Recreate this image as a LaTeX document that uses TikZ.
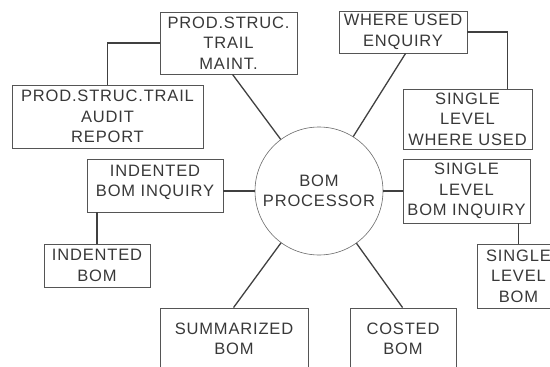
\documentclass[tikz,border=0pt]{standalone}
\usepackage{fontspec}
\setmainfont{Liberation Sans}[LetterSpace=5]
\definecolor{txt}{HTML}{383838}
\definecolor{boxc}{HTML}{555555}
\definecolor{linec}{HTML}{404040}
\definecolor{circc}{HTML}{6A6A6A}
\begin{document}
\begin{tikzpicture}[x=1pt,y=-1pt,
  font=\fontsize{16.5pt}{20.5pt}\selectfont,
  boxn/.style={draw=boxc,line width=0.9pt,text=txt,inner sep=0pt,align=center,
    minimum width=#1},
  conn/.style={draw=linec,line width=1.3pt}]
\useasboundingbox (0,0) rectangle (550,367);
\clip (0,0) rectangle (550,367);
\node[boxn=137pt,minimum height=62pt] (pstm) at (228.5,43) {PROD.STRUC.\\TRAIL\\MAINT.};
\node[boxn=191pt,minimum height=63pt] (audit) at (107.5,116.5) {PROD.STRUC.TRAIL\\AUDIT\\REPORT};
\node[boxn=128pt,minimum height=42pt] (wue) at (403,32) {WHERE USED\\ENQUIRY};
\node[boxn=129pt,minimum height=60pt] (slwu) at (467.5,119) {SINGLE\\LEVEL\\WHERE USED};
\node[boxn=127pt,minimum height=64pt] (slbi) at (466.5,191) {SINGLE\\LEVEL\\BOM INQUIRY};
\node[boxn=83pt,minimum height=64pt] (slb) at (518.5,276) {SINGLE\\LEVEL\\BOM};
\node[boxn=136pt,minimum height=53pt] (ibi) at (155,185.5) {INDENTED\\BOM INQUIRY\\[-11.5pt]\mbox{}};
\node[boxn=106pt,minimum height=43pt] (ib) at (97,265.5) {INDENTED\\BOM};
\node[boxn=148pt,minimum height=62pt] (sb) at (234,339) {SUMMARIZED\\BOM};
\node[boxn=106pt,minimum height=62pt] (cb) at (403,339) {COSTED\\BOM};
\node[circle,draw=circc,line width=0.6pt,text=txt,align=center,inner sep=0pt,
  minimum size=128pt] (circ) at (319,191) {BOM\\PROCESSOR};
% connectors
\draw[conn] (pstm.west) -| (audit.north);
\draw[conn] (wue.east) -| ([xshift=105pt]slwu.north west);
\draw[conn] (ib.north) -- (ib.north |- ibi.south);
\draw[conn] (slb.north) -- (slb.north |- slbi.south);
\draw[conn] (ibi.east |- circ.west) -- (circ.west);
\draw[conn] (circ.east) -- (slbi.west |- circ.east);
\draw[conn] ([xshift=73pt]pstm.south west) -- (circ);
\draw[conn] ([xshift=67pt]wue.south west) -- (circ);
\draw[conn] ([xshift=74pt]sb.north west) -- (circ);
\draw[conn] ([xshift=53pt]cb.north west) -- (circ);
\end{tikzpicture}
\end{document}
